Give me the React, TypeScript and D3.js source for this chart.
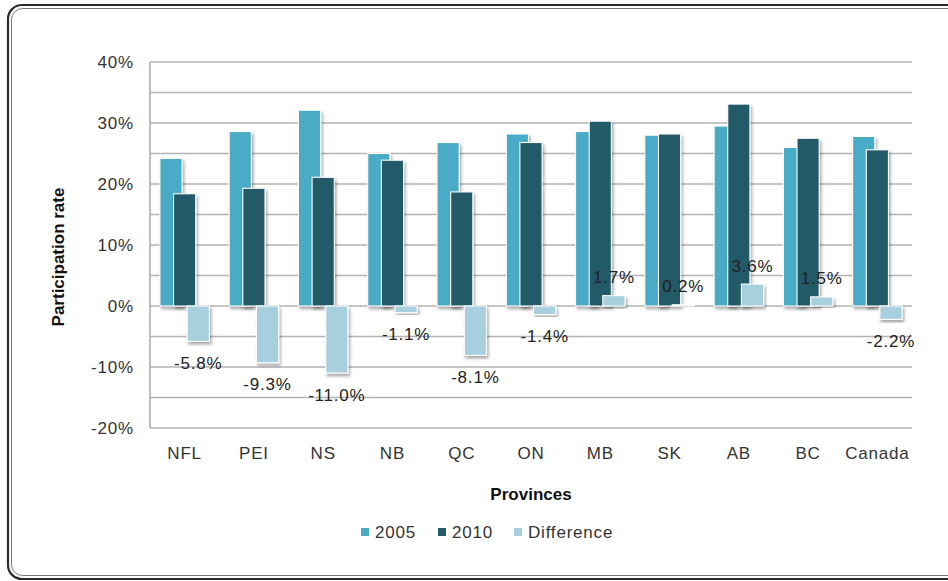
import React from "react";
import * as d3 from "d3";

const provinces = ["NFL", "PEI", "NS", "NB", "QC", "ON", "MB", "SK", "AB", "BC", "Canada"];
const values2005 = [24.2, 28.6, 32.1, 25.0, 26.8, 28.2, 28.6, 28.0, 29.5, 26.0, 27.8];
const values2010 = [18.4, 19.3, 21.1, 23.9, 18.7, 26.8, 30.3, 28.2, 33.1, 27.5, 25.6];
const difference = [-5.8, -9.3, -11.0, -1.1, -8.1, -1.4, 1.7, 0.2, 3.6, 1.5, -2.2];
const yTicks = [-20, -10, 0, 10, 20, 30, 40];
const seriesNames = ["2005", "2010", "Difference"];
const colors = ["#4aabc5", "#225a68", "#a7cfdd"];

const W = 948;
const H = 581;
const m = { left: 150, right: 912, top: 62, bottom: 428 };
const font = "'Liberation Sans', Arial, sans-serif";

export default function App() {
  const x = d3.scaleBand<string>().domain(provinces).range([m.left, m.right]).paddingInner(0).paddingOuter(0);
  const y = d3.scaleLinear().domain([-20, 40]).range([m.bottom, m.top]);
  const bw = x.bandwidth();
  const barW = bw * 0.32;
  const step = bw * 0.197;
  const gridVals = d3.range(-20, 40.001, 5);
  const series = [values2005, values2010, difference];

  return (
    <svg width={W} height={H} style={{ position: "absolute", left: 0, top: 0 }}>
      <defs>
        <filter id="sh" x="-30%" y="-10%" width="160%" height="130%">
          <feDropShadow dx="1.5" dy="2.5" stdDeviation="1.6" floodColor="#000" floodOpacity="0.35" />
        </filter>
      </defs>
      <rect x={0} y={0} width={W} height={H} fill="#fff" />
      {/* frame */}
      <rect x={8} y={5} width={980} height={574} rx={14} ry={14} fill="none" stroke="#2b2b2b" strokeWidth={2.2} />
      <rect x={11.5} y={8.5} width={975} height={567} rx={11} ry={11} fill="none" stroke="#777" strokeWidth={1} />

      {/* grid */}
      {gridVals.map((v) => (
        <line key={v} x1={m.left} x2={m.right} y1={y(v)} y2={y(v)} stroke="#b3b3b3" strokeWidth={1.5} />
      ))}
      <line x1={m.left} x2={m.left} y1={m.top} y2={m.bottom} stroke="#a8a8a8" strokeWidth={1.5} />

      {/* y tick labels */}
      {yTicks.map((v) => (
        <text key={v} x={134} y={y(v)} textAnchor="end" dominantBaseline="central" fontFamily={font} fontSize={17} letterSpacing={0.8} fill="#333">
          {v + "%"}
        </text>
      ))}

      {/* bars */}
      {series.map((vals, si) =>
        provinces.map((p, i) => {
          const cx = (x(p) as number) + bw / 2;
          const left = cx + (si - 1) * step - barW / 2;
          const v = vals[i];
          const y0 = y(0);
          const yv = y(v);
          return (
            <rect
              key={si + "-" + p}
              x={left}
              y={Math.min(y0, yv)}
              width={barW}
              height={Math.max(Math.abs(yv - y0), 0.8)}
              fill={colors[si]}
              stroke="#fff"
              strokeWidth={1.1}
              filter="url(#sh)"
            />
          );
        })
      )}

      {/* difference labels */}
      {provinces.map((p, i) => {
        const cx = (x(p) as number) + bw / 2 + step;
        const v = difference[i];
        const ly = v >= 0 ? y(v) - 18 : y(v) + 22;
        return (
          <text key={"l" + p} x={cx} y={ly} textAnchor="middle" dominantBaseline="central" fontFamily={font} fontSize={17} letterSpacing={0.8} fill="#222">
            {v.toFixed(1) + "%"}
          </text>
        );
      })}

      {/* x labels */}
      {provinces.map((p) => (
        <text key={"x" + p} x={(x(p) as number) + bw / 2} y={453} textAnchor="middle" dominantBaseline="central" fontFamily={font} fontSize={17} letterSpacing={0.8} fill="#333">
          {p}
        </text>
      ))}

      {/* axis titles */}
      <text x={(m.left + m.right) / 2} y={494} textAnchor="middle" dominantBaseline="central" fontFamily={font} fontSize={17} fontWeight="bold" fill="#111">
        Provinces
      </text>
      <text
        transform={`translate(58,${(m.top + m.bottom) / 2 + 12}) rotate(-90)`}
        textAnchor="middle"
        dominantBaseline="central"
        fontFamily={font}
        fontSize={17}
        fontWeight="bold"
        fill="#111"
      >
        Participation  rate
      </text>

      {/* legend */}
      {seriesNames.map((s, i) => {
        const lx = [361, 438, 514][i];
        return (
          <g key={"lg" + s}>
            <rect x={lx} y={528} width={8} height={8} fill={colors[i]} />
            <text x={lx + 14} y={532} dominantBaseline="central" fontFamily={font} fontSize={17} letterSpacing={0.8} fill="#333">
              {s}
            </text>
          </g>
        );
      })}
    </svg>
  );
}
